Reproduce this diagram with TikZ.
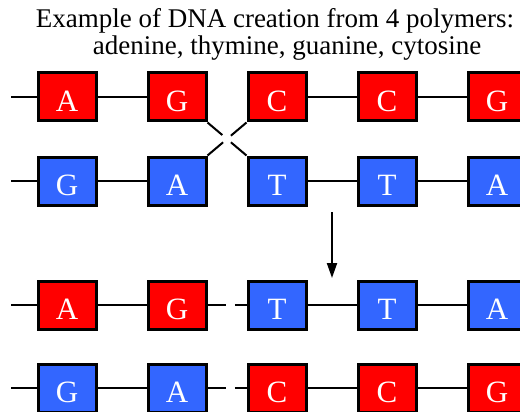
\documentclass[tikz,border=0pt]{standalone}
\usepackage{fontspec}
\setmainfont{Liberation Serif}
\usepackage{xcolor}
\usepackage{tikz}
\usetikzlibrary{arrows.meta, calc}
\definecolor{basered}{RGB}{255,0,0}
\definecolor{baseblue}{RGB}{51,102,255}
\tikzset{
    base/.style={rectangle, draw=black, line width=3pt, minimum width=58pt, minimum height=48pt, inner sep=0pt, text=white, text height=28pt, text depth=0pt, font=\fontsize{31}{31}\selectfont},
    redbase/.style={base, fill=basered},
    blubase/.style={base, fill=baseblue},
    link/.style={line width=2pt},
    arrow/.style={-{Triangle[length=15pt,width=10pt]}, line width=2pt},
    titlestyle/.style={anchor=base, inner sep=0pt, font=\fontsize{27}{27}\selectfont},
}

\begin{document}
\begin{tikzpicture}[x=1pt, y=-1pt]
            \useasboundingbox (0,0) rectangle (520,412);
            \clip (0,0) rectangle (520,412);
            \node[titlestyle] (title1) at (275,28) {Example of DNA creation from 4 polymers:};
            \node[titlestyle] (title2) at (287,55) {adenine, thymine, guanine, cytosine};
            % before
            \node[redbase] (x1) at (67,97) {A};
            \node[redbase] (x2) at (177,97) {G};
            \node[redbase] (x3) at (277,97) {C};
            \node[redbase] (x4) at (387,97) {C};
            \node[redbase] (x5) at (497,97) {G};
            \node[blubase] (y1) at (67,181) {G};
            \node[blubase] (y2) at (177,181) {A};
            \node[blubase] (y3) at (277,181) {T};
            \node[blubase] (y4) at (387,181) {T};
            \node[blubase] (y5) at (497,181) {A};
            \coordinate (xs) at (11,97);
            \coordinate (ys) at (11,181);
            \draw[link] (xs) -- (x1.west);
            \draw[link] (x1) -- (x2);
            \draw[link] (x3) -- (x4);
            \draw[link] (x4) -- (x5);
            \draw[link] (ys) -- (y1.west);
            \draw[link] (y1) -- (y2);
            \draw[link] (y3) -- (y4);
            \draw[link] (y4) -- (y5);
            % crossing
            \draw[link] (x2.south east) -- ($(x2.south east)!0.38!(y3.north west)$);
            \draw[link] ($(x2.south east)!0.6!(y3.north west)$) -- (y3.north west);
            \draw[link] (y2.north east) -- ($(y2.north east)!0.4!(x3.south west)$);
            \draw[link] ($(y2.north east)!0.6!(x3.south west)$) -- (x3.south west);
            % step
            \coordinate (arrtop) at (332,212);
            \coordinate (arrbot) at (332,278);
            \draw[arrow] (arrtop) -- (arrbot);
            % after
            \node[redbase] (u1) at (67,305) {A};
            \node[redbase] (u2) at (177,305) {G};
            \node[blubase] (u3) at (277,305) {T};
            \node[blubase] (u4) at (387,305) {T};
            \node[blubase] (u5) at (497,305) {A};
            \node[blubase] (v1) at (67,388) {G};
            \node[blubase] (v2) at (177,388) {A};
            \node[redbase] (v3) at (277,388) {C};
            \node[redbase] (v4) at (387,388) {C};
            \node[redbase] (v5) at (497,388) {G};
            \coordinate (us) at (11,305);
            \coordinate (vs) at (11,388);
            \draw[link] (us) -- (u1.west);
            \draw[link] (u1) -- (u2);
            \draw[link] (u2.east) -- ($(u2.east)!0.47!(u3.west)$);
            \draw[link] ($(u2.east)!0.7!(u3.west)$) -- (u3.west);
            \draw[link] (u3) -- (u4);
            \draw[link] (u4) -- (u5);
            \draw[link] (vs) -- (v1.west);
            \draw[link] (v1) -- (v2);
            \draw[link] (v2.east) -- ($(v2.east)!0.47!(v3.west)$);
            \draw[link] ($(v2.east)!0.7!(v3.west)$) -- (v3.west);
            \draw[link] (v3) -- (v4);
            \draw[link] (v4) -- (v5);
        \end{tikzpicture}
\end{document}
